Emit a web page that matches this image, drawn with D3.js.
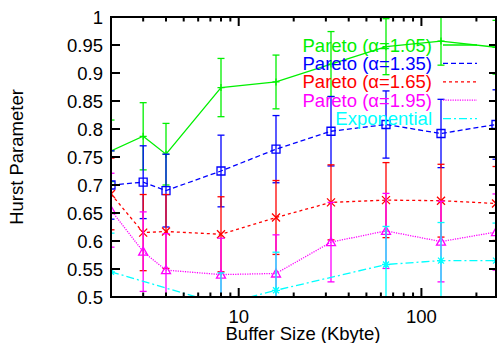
<!DOCTYPE html>
<html>
<head>
<meta charset="utf-8">
<script src="https://cdn.jsdelivr.net/npm/d3@7"></script>
<style>
  body { margin: 0; background: #fff; }
  svg { display: block; }
  text { font-family: "Liberation Sans", Arial, Helvetica, sans-serif; }
</style>
</head>
<body>
<svg id="chart" width="500" height="343"></svg>
<script>
// Buffer sizes (Kbyte) at which the Pareto traces were measured
const bufferSizes = [2, 3, 4, 8, 16, 32, 64, 128, 256];

// Hurst parameter estimates and their error half-widths
const hurstA105 = [0.761, 0.787, 0.755, 0.874, 0.884, 0.916, 0.947, 0.957, 0.946];
const errA105   = [0.055, 0.060, 0.055, 0.052, 0.048, 0.058, 0.050, 0.043, 0.048];

const hurstA135 = [0.700, 0.705, 0.690, 0.725, 0.764, 0.796, 0.808, 0.792, 0.808];
const errA135   = [0.061, 0.065, 0.065, 0.064, 0.060, 0.062, 0.060, 0.061, 0.062];

const hurstA165 = [0.684, 0.615, 0.617, 0.612, 0.642, 0.669, 0.673, 0.672, 0.667];
const errA165   = [0.064, 0.068, 0.066, 0.067, 0.066, 0.067, 0.067, 0.065, 0.066];

const hurstA195 = [0.655, 0.581, 0.548, 0.540, 0.542, 0.598, 0.618, 0.599, 0.616];
const errA195   = [0.066, 0.071, 0.065, 0.065, 0.069, 0.071, 0.067, 0.072, 0.068];

// Exponential traffic was measured at fewer buffer sizes
const expBufferSizes = [2, 8, 16, 64, 128, 256];
const hurstExp = [0.545, 0.487, 0.512, 0.558, 0.565, 0.565];
const errExp   = [0.069, 0.056, 0.068, 0.068, 0.068, 0.067];

const seriesLabels = ["Pareto (\u03b1=1.05)", "Pareto (\u03b1=1.35)", "Pareto (\u03b1=1.65)",
                      "Pareto (\u03b1=1.95)", "Exponential"];
const yTickValues = [0.5, 0.55, 0.6, 0.65, 0.7, 0.75, 0.8, 0.85, 0.9, 0.95, 1];
const xLabelTicks = [10, 100];
const xMinorTicks = [3, 4, 5, 6, 7, 8, 9, 20, 30, 40, 50, 60, 70, 80, 90, 200];

const series = [
  { name: seriesLabels[0], xs: bufferSizes, ys: hurstA105, es: errA105, color: "#00f000", dash: null,      marker: "plus" },
  { name: seriesLabels[1], xs: bufferSizes, ys: hurstA135, es: errA135, color: "#0000ff", dash: "5,3",     marker: "square" },
  { name: seriesLabels[2], xs: bufferSizes, ys: hurstA165, es: errA165, color: "#ff0000", dash: "3,3",     marker: "cross" },
  { name: seriesLabels[3], xs: bufferSizes, ys: hurstA195, es: errA195, color: "#ff00ff", dash: "1.2,1.2", marker: "triangle" },
  { name: seriesLabels[4], xs: expBufferSizes, ys: hurstExp, es: errExp, color: "#00ffff", dash: "8,3,2,3", marker: "star" }
];

const svg = d3.select("#chart");
const plot = { left: 111, right: 496, top: 17, bottom: 297 };

const x = d3.scaleLog().domain([2, 256]).range([plot.left, plot.right]);
const y = d3.scaleLinear().domain([0.5, 1]).range([plot.bottom, plot.top]);

svg.append("defs").append("clipPath").attr("id", "plotClip")
  .append("rect")
  .attr("x", plot.left).attr("y", plot.top)
  .attr("width", plot.right - plot.left).attr("height", plot.bottom - plot.top);

const fontSize = 18.5;

// Y tick labels
svg.append("g").selectAll("text").data(yTickValues).join("text")
  .attr("x", 103).attr("y", d => y(d) + 6.5)
  .attr("text-anchor", "end").attr("font-size", fontSize).attr("fill", "#000")
  .text(d => d3.format("~g")(d));

// X tick labels
svg.append("g").selectAll("text").data(xLabelTicks).join("text")
  .attr("x", d => x(d)).attr("y", 323)
  .attr("text-anchor", "middle").attr("font-size", fontSize).attr("fill", "#000")
  .text(d => d);

// Axis titles
svg.append("text").attr("x", 303).attr("y", 340)
  .attr("text-anchor", "middle").attr("font-size", fontSize).text("Buffer Size (Kbyte)");
svg.append("text").attr("transform", "translate(23,157) rotate(-90)")
  .attr("text-anchor", "middle").attr("font-size", fontSize).text("Hurst Parameter");

// Data layer (clipped to the plot box)
const data = svg.append("g").attr("clip-path", "url(#plotClip)");

function markerPath(kind) {
  switch (kind) {
    case "plus":     return "M-3.5,0H3.5M0,-3.5V3.5";
    case "square":   return "M-4,-4H4V4H-4Z";
    case "cross":    return "M-4,-4L4,4M-4,4L4,-4";
    case "triangle": return "M0,-4.5L4.5,3.5H-4.5Z";
    case "star":     return "M-4,0H4M0,-4V4M-3,-3L3,3M-3,3L3,-3";
  }
}

series.forEach(s => {
  const pts = s.xs.map((bx, i) => ({ bx, v: s.ys[i], e: s.es[i] }));
  const g = data.append("g");

  // error bars
  const eb = g.append("g").attr("stroke", s.color).attr("stroke-width", 1.3).attr("fill", "none");
  pts.forEach(p => {
    const px = x(p.bx), y0 = y(p.v - p.e), y1 = y(p.v + p.e);
    eb.append("line").attr("x1", px).attr("x2", px).attr("y1", y0).attr("y2", y1);
    eb.append("line").attr("x1", px - 3.5).attr("x2", px + 3.5).attr("y1", y0).attr("y2", y0);
    eb.append("line").attr("x1", px - 3.5).attr("x2", px + 3.5).attr("y1", y1).attr("y2", y1);
  });

  // connecting line
  const line = d3.line().x(p => x(p.bx)).y(p => y(p.v));
  g.append("path").datum(pts).attr("d", line)
    .attr("fill", "none").attr("stroke", s.color).attr("stroke-width", 1.3)
    .attr("stroke-dasharray", s.dash);

  // point markers
  g.append("g").selectAll("path").data(pts).join("path")
    .attr("transform", p => `translate(${x(p.bx)},${y(p.v)})`)
    .attr("d", markerPath(s.marker))
    .attr("fill", "none").attr("stroke", s.color).attr("stroke-width", 1.3);
});

// Key
const key = svg.append("g");
series.forEach((s, i) => {
  const base = 51.5 + i * 18.4;
  key.append("text").attr("x", 432).attr("y", base)
    .attr("text-anchor", "end").attr("font-size", fontSize).attr("fill", s.color).text(s.name);
  key.append("line").attr("x1", 443).attr("x2", 477).attr("y1", base - 6.5).attr("y2", base - 6.5)
    .attr("stroke", s.color).attr("stroke-width", 1.3).attr("stroke-dasharray", s.dash);
});

// Frame and inward ticks
const axes = svg.append("g").attr("stroke", "#000").attr("fill", "none");
yTickValues.forEach(v => {
  axes.append("line").attr("x1", plot.left).attr("x2", plot.left + 9).attr("y1", y(v)).attr("y2", y(v)).attr("stroke-width", 2);
  axes.append("line").attr("x1", plot.right).attr("x2", plot.right - 7).attr("y1", y(v)).attr("y2", y(v)).attr("stroke-width", 2);
});
xLabelTicks.forEach(v => {
  axes.append("line").attr("x1", x(v)).attr("x2", x(v)).attr("y1", plot.bottom).attr("y2", plot.bottom - 9).attr("stroke-width", 2);
  axes.append("line").attr("x1", x(v)).attr("x2", x(v)).attr("y1", plot.top).attr("y2", plot.top + 9).attr("stroke-width", 2);
});
xMinorTicks.forEach(v => {
  axes.append("line").attr("x1", x(v)).attr("x2", x(v)).attr("y1", plot.bottom).attr("y2", plot.bottom - 4.5).attr("stroke-width", 2);
  axes.append("line").attr("x1", x(v)).attr("x2", x(v)).attr("y1", plot.top).attr("y2", plot.top + 4.5).attr("stroke-width", 2);
});
axes.append("rect")
  .attr("x", plot.left).attr("y", plot.top)
  .attr("width", plot.right - plot.left).attr("height", plot.bottom - plot.top)
  .attr("stroke-width", 2);
</script>
</body>
</html>
